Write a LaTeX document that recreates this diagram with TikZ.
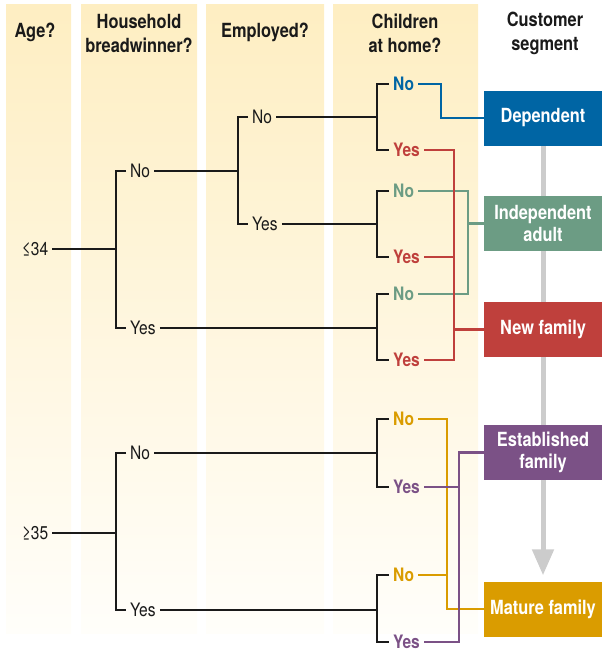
\documentclass[tikz,border=0pt]{standalone}
\usepackage{fontspec}
\setmainfont{TeX Gyre Heros}[FakeStretch=0.84]
\usetikzlibrary{arrows.meta,backgrounds}
\definecolor{colTop}{HTML}{FEEEC2}
\definecolor{colBot}{HTML}{FFFEFA}
\definecolor{ink}{HTML}{1A1A1A}
\definecolor{depblue}{HTML}{0065A4}
\definecolor{indgreen}{HTML}{6C9C84}
\definecolor{newred}{HTML}{BF403C}
\definecolor{estpurple}{HTML}{7B5186}
\definecolor{matorange}{HTML}{DA9C00}
\tikzset{
  head/.style={font=\fontsize{19.5}{24}\selectfont\bfseries, align=center, text=ink},
  lbl/.style={anchor=west, inner xsep=4pt, inner ysep=2pt, text=ink, font=\fontsize{18.5}{22}\selectfont},
  kid/.style={lbl, text=#1, font=\fontsize{18.5}{22}\selectfont\bfseries},
  seg/.style={fill=#1, text=white, font=\fontsize{19.5}{22}\selectfont\bfseries, align=center,
    minimum width=118pt, minimum height=55pt, inner sep=0pt},
  tree/.style={draw=ink, line width=1.2pt},
  link/.style={draw=#1, line width=2.2pt}
}
\begin{document}
\begin{tikzpicture}[x=1pt, y=-1pt]
      \useasboundingbox (0,0) rectangle (602,672);
      % question columns
      \shade[top color=colTop, bottom color=colBot] (6,4) rectangle (71,633);
      \shade[top color=colTop, bottom color=colBot] (81,4) rectangle (197,633);
      \shade[top color=colTop, bottom color=colBot] (206,4) rectangle (324,633);
      \shade[top color=colTop, bottom color=colBot] (333,4) rectangle (478,633);
      % headings
      \node[head] (hAge) at (35,32) {Age?};
      \node[head] (hHouse) at (139,33) {Household\\breadwinner?};
      \node[head] (hEmp) at (265,32) {Employed?};
      \node[head] (hKids) at (405,33) {Children\\at home?};
      \node[head] (hSeg) at (545,33) {Customer\\segment};
      % age
      \node[lbl, anchor=center] (young) at (35,249) {≤34};
      \node[lbl, anchor=center] (old) at (35,533) {≥35};
      \coordinate (sy) at (116,249);
      \coordinate (so) at (116,533);
      % breadwinner
      \node[lbl] (yn) at (126,171) {No};
      \node[lbl] (yy) at (126,328) {Yes};
      \node[lbl] (on) at (126,453) {No};
      \node[lbl] (oy) at (126,610) {Yes};
      \coordinate (se) at (238,171);
      % employed
      \node[lbl] (en) at (248,117) {No};
      \node[lbl] (ey) at (248,224) {Yes};
      % children at home
      \coordinate (k1) at (377,117);
      \coordinate (k2) at (377,224);
      \coordinate (k3) at (377,328);
      \coordinate (k4) at (377,453);
      \coordinate (k5) at (377,610);
      \node[kid=depblue] (c1) at (389,84) {No};
      \node[kid=newred] (c2) at (389,150) {Yes};
      \node[kid=indgreen] (c3) at (389,191) {No};
      \node[kid=newred] (c4) at (389,257) {Yes};
      \node[kid=indgreen] (c5) at (389,294) {No};
      \node[kid=newred] (c6) at (389,360) {Yes};
      \node[kid=matorange] (c7) at (389,419) {No};
      \node[kid=estpurple] (c8) at (389,487) {Yes};
      \node[kid=matorange] (c9) at (389,575) {No};
      \node[kid=estpurple] (c10) at (389,642) {Yes};
      % segments
      \node[seg=depblue] (dep) at (543,118) {Dependent};
      \node[seg=indgreen] (ind) at (543,223.5) {Independent\\adult};
      \node[seg=newred] (newf) at (543,329.5) {New family};
      \node[seg=estpurple] (est) at (543,452.5) {Established\\family};
      \node[seg=matorange] (mat) at (543,609) {Mature family};
      \begin{scope}[on background layer]
        \draw[line width=5pt, draw=black!20, shorten >=6pt, -{Triangle[width=21pt,length=26pt]}] (dep) -- (mat);
      \end{scope}
      % tree
      \draw[tree] (young) -- (sy);
      \draw[tree] (yn.west) -| (sy) |- (yy.west);
      \draw[tree] (old) -- (so);
      \draw[tree] (on.west) -| (so) |- (oy.west);
      \draw[tree] (yn) -- (se);
      \draw[tree] (en.west) -| (se) |- (ey.west);
      \draw[tree] (en) -- (k1);
      \draw[tree] (c1.west) -| (k1) |- (c2.west);
      \draw[tree] (ey) -- (k2);
      \draw[tree] (c3.west) -| (k2) |- (c4.west);
      \draw[tree] (yy) -- (k3);
      \draw[tree] (c5.west) -| (k3) |- (c6.west);
      \draw[tree] (on) -- (k4);
      \draw[tree] (c7.west) -| (k4) |- (c8.west);
      \draw[tree] (oy) -- (k5);
      \draw[tree] (c9.west) -| (k5) |- (c10.west);
      % links to segments
      \coordinate (busB) at (441,0);
      \coordinate (busR) at (454,0);
      \coordinate (busG) at (468,0);
      \coordinate (busO) at (447,0);
      \coordinate (busP) at (459,0);
      \draw[link=depblue] (c1) -- (c1 -| busB) |- (dep);
      \draw[link=indgreen] (c3) -- (c3 -| busG) -- (c5 -| busG) -- (c5);
      \draw[link=indgreen] (ind -| busG) -- (ind);
      \draw[link=newred] (c2) -- (c2 -| busR) -- (c6 -| busR) -- (c6);
      \draw[link=newred] (c4) -- (c4 -| busR);
      \draw[link=newred] (newf -| busR) -- (newf);
      \draw[link=matorange] (c7) -- (c7 -| busO) |- (mat);
      \draw[link=matorange] (c9) -- (c9 -| busO);
      \draw[link=estpurple] (c10) -- (c10 -| busP) |- (est);
      \draw[link=estpurple] (c8) -- (c8 -| busP);
   \end{tikzpicture}
\end{document}
